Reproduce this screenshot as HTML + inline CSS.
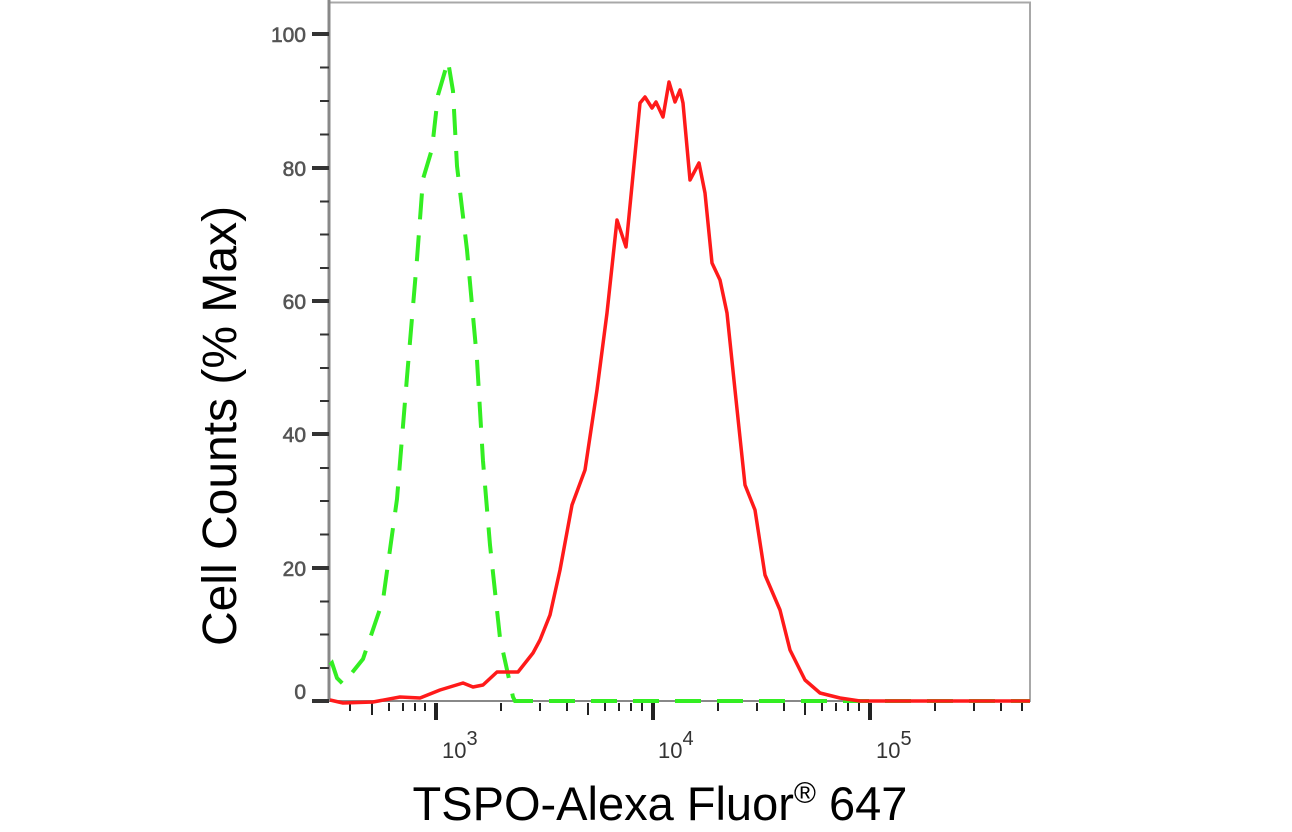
<!DOCTYPE html>
<html><head><meta charset="utf-8"><style>
html,body{margin:0;padding:0;background:#fff;}
svg{display:block;}
</style></head><body>
<svg width="1292" height="832" viewBox="0 0 1292 832" xmlns="http://www.w3.org/2000/svg">
<rect width="1292" height="832" fill="#fff"/>
<rect x="329" y="2.5" width="701" height="698.5" fill="none" stroke="#a8a8a8" stroke-width="2"/>
<line x1="329" y1="0" x2="329" y2="702" stroke="#888" stroke-width="3"/>
<line x1="329" y1="701" x2="1030" y2="701" stroke="#888" stroke-width="2"/>
<g stroke="#333" stroke-width="2">
<line x1="312" y1="34" x2="329" y2="34" stroke-width="4"/>
<line x1="312" y1="168" x2="329" y2="168" stroke-width="4"/>
<line x1="312" y1="301" x2="329" y2="301" stroke-width="4"/>
<line x1="312" y1="434" x2="329" y2="434" stroke-width="4"/>
<line x1="312" y1="568" x2="329" y2="568" stroke-width="4"/>
<line x1="312" y1="701" x2="329" y2="701" stroke-width="4"/>
<line x1="320" y1="67.5" x2="329" y2="67.5"/><line x1="320" y1="101" x2="329" y2="101"/><line x1="320" y1="134.5" x2="329" y2="134.5"/>
<line x1="320" y1="201.5" x2="329" y2="201.5"/><line x1="320" y1="234.5" x2="329" y2="234.5"/><line x1="320" y1="268" x2="329" y2="268"/>
<line x1="320" y1="334.5" x2="329" y2="334.5"/><line x1="320" y1="368" x2="329" y2="368"/><line x1="320" y1="401" x2="329" y2="401"/>
<line x1="320" y1="468" x2="329" y2="468"/><line x1="320" y1="501" x2="329" y2="501"/><line x1="320" y1="534.5" x2="329" y2="534.5"/>
<line x1="320" y1="601.5" x2="329" y2="601.5"/><line x1="320" y1="634.5" x2="329" y2="634.5"/><line x1="320" y1="668" x2="329" y2="668"/>
</g>
<g font-family="Liberation Sans, sans-serif" font-size="21" fill="#555" text-anchor="end" stroke="#555" stroke-width="0.6">
<text x="306" y="42">100</text>
<text x="306" y="176">80</text>
<text x="306" y="309">60</text>
<text x="306" y="442">40</text>
<text x="306" y="576">20</text>
<text x="306" y="699">0</text>
</g>
<g stroke="#222" stroke-width="2">
<line x1="350" y1="703" x2="350" y2="711"/><line x1="372" y1="703" x2="372" y2="715"/><line x1="389" y1="703" x2="389" y2="711"/><line x1="403" y1="703" x2="403" y2="711"/><line x1="415" y1="703" x2="415" y2="711"/><line x1="425" y1="703" x2="425" y2="711"/>
<line x1="436" y1="703" x2="436" y2="720" stroke-width="4"/>
<line x1="501" y1="703" x2="501" y2="711"/><line x1="540" y1="703" x2="540" y2="711"/><line x1="567" y1="703" x2="567" y2="711"/><line x1="588" y1="703" x2="588" y2="715"/><line x1="605" y1="703" x2="605" y2="711"/><line x1="619" y1="703" x2="619" y2="711"/><line x1="631" y1="703" x2="631" y2="711"/><line x1="642" y1="703" x2="642" y2="711"/>
<line x1="653" y1="703" x2="653" y2="720" stroke-width="4"/>
<line x1="718" y1="703" x2="718" y2="711"/><line x1="757" y1="703" x2="757" y2="711"/><line x1="784" y1="703" x2="784" y2="711"/><line x1="805" y1="703" x2="805" y2="715"/><line x1="822" y1="703" x2="822" y2="711"/><line x1="836" y1="703" x2="836" y2="711"/><line x1="848" y1="703" x2="848" y2="711"/><line x1="859" y1="703" x2="859" y2="711"/>
<line x1="870" y1="703" x2="870" y2="720" stroke-width="4"/>
<line x1="935" y1="703" x2="935" y2="711"/><line x1="974" y1="703" x2="974" y2="711"/><line x1="1001" y1="703" x2="1001" y2="711"/><line x1="1022" y1="703" x2="1022" y2="711"/>
</g>
<g font-family="Liberation Sans, sans-serif" font-size="22" fill="#333">
<text x="442" y="758">10<tspan dy="-13" font-size="20">3</tspan></text>
<text x="658" y="758">10<tspan dy="-13" font-size="20">4</tspan></text>
<text x="876" y="758">10<tspan dy="-13" font-size="20">5</tspan></text>
</g>
<polyline fill="none" stroke="#33ee22" stroke-width="4" stroke-dasharray="26,16" points="330,665 332,663 337,678 343,684 363,659 383,600 397,499 407,377 417,259 423,179 432,149 438,95 448,61 453,91 457,166 467,250 477,360 483,461 490,545 500,638 513,697 515,701 1030,701"/>
<polyline fill="none" stroke="#ff1a1a" stroke-width="3.5" stroke-linejoin="round" points="330,700 343,703 373,702 400,697 420,698 440,690 463,683 473,687 483,685 497,672 508,672 518,672 533,653 540,640 550,615 560,570 572,505 585,470 597,390 607,313 617,220 626,247 640,103 645,97 652,108 656,102 663,117 669,82 675,102 680,90 683,103 690,180 699,163 705,193 712,263 720,280 727,313 735,390 745,485 755,510 765,575 780,610 790,650 805,680 820,693 840,698 860,701 1030,701"/>
<text x="660" y="820" font-family="Liberation Sans, sans-serif" font-size="47" text-anchor="middle" fill="#000">TSPO-Alexa Fluor<tspan dy="-17" font-size="30">®</tspan><tspan dy="17"> 647</tspan></text>
<text transform="translate(236,426) rotate(-90)" font-family="Liberation Sans, sans-serif" font-size="48" text-anchor="middle" fill="#000">Cell Counts (% Max)</text>
</svg>
</body></html>
